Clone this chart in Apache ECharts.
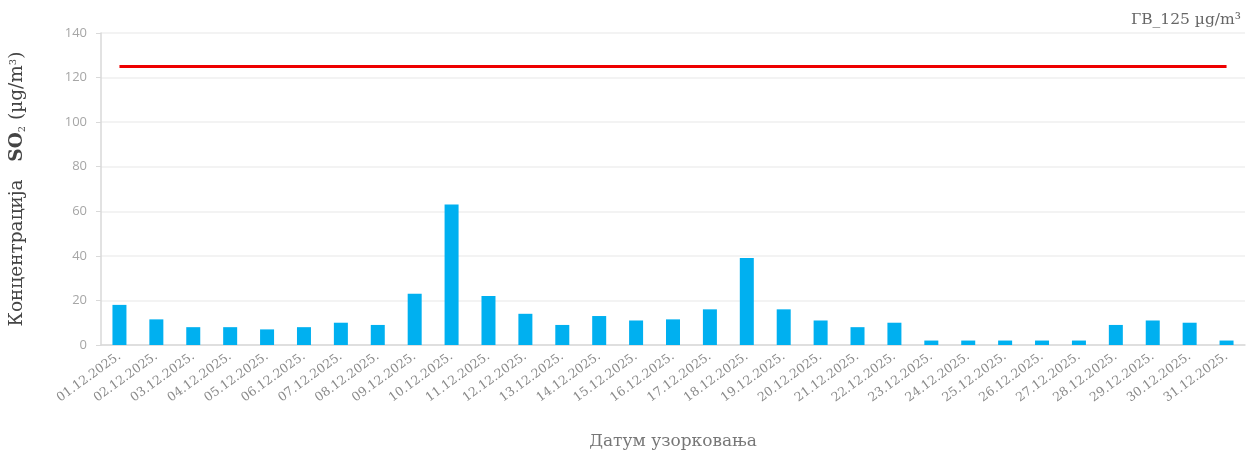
<!DOCTYPE html>
<html>
<head>
<meta charset="utf-8">
<script src="https://cdn.jsdelivr.net/npm/echarts@6/dist/echarts.min.js"></script>
<style>
  html, body { margin: 0; padding: 0; background: #fff; }
  #chart { width: 1256px; height: 459px; }
</style>
</head>
<body>
<div id="chart"></div>
<script>
  // датуми узорковања
  var dates = ['01.12.2025.', '02.12.2025.', '03.12.2025.', '04.12.2025.', '05.12.2025.', '06.12.2025.',
    '07.12.2025.', '08.12.2025.', '09.12.2025.', '10.12.2025.', '11.12.2025.', '12.12.2025.',
    '13.12.2025.', '14.12.2025.', '15.12.2025.', '16.12.2025.', '17.12.2025.', '18.12.2025.',
    '19.12.2025.', '20.12.2025.', '21.12.2025.', '22.12.2025.', '23.12.2025.', '24.12.2025.',
    '25.12.2025.', '26.12.2025.', '27.12.2025.', '28.12.2025.', '29.12.2025.', '30.12.2025.',
    '31.12.2025.'];
  // SO2 концентрације (µg/m3)
  var so2 = [18, 11.5, 8, 8, 7, 8, 10, 9, 23, 63, 22, 14, 9, 13, 11, 11.5, 16, 39, 16, 11, 8, 10, 2, 2, 2, 2, 2, 9, 11, 10, 2];
  // гранична вредност
  var limitValue = 125;
  var yTicks = [0, 20, 40, 60, 80, 100, 120, 140];

  var serif = '"DejaVu Serif", "Liberation Serif", serif';

  var myChart = echarts.init(document.getElementById('chart'));
  var option = {
    animation: false,
    title: {
      text: 'ГВ_125 µg/m³',
      right: 10,
      top: 7,
      textStyle: { fontFamily: serif, fontSize: 15.5, fontWeight: 'normal', color: '#666' }
    },
    grid: { left: 100, right: 11, top: 33, bottom: 114 },
    xAxis: {
      type: 'category',
      data: dates,
      name: 'Датум узорковања',
      nameLocation: 'middle',
      nameGap: 88,
      nameTextStyle: { fontFamily: serif, fontSize: 17, color: '#777' },
      axisLine: { lineStyle: { color: '#d9d9d9', width: 1.5 } },
      axisTick: { show: false },
      axisLabel: {
        interval: 0,
        rotate: 36,
        margin: 10,
        fontFamily: serif,
        fontSize: 12.5,
        color: '#8a8a8a'
      }
    },
    yAxis: {
      type: 'value',
      min: yTicks[0],
      max: yTicks[yTicks.length - 1],
      interval: 20,
      name: 'Концентрација   {b|SO}{sub|2} (µg/m{sup|3})',
      nameLocation: 'middle',
      nameGap: 74,
      nameTextStyle: {
        fontFamily: serif, fontSize: 18.5, color: '#444',
        rich: {
          b: { fontFamily: serif, fontSize: 18.5, fontWeight: 'bold', color: '#444' },
          sub: { fontFamily: serif, fontSize: 10, color: '#444', verticalAlign: 'bottom', padding: [8, 0, 0, 0] },
          sup: { fontFamily: serif, fontSize: 10, color: '#444', verticalAlign: 'top', padding: [0, 0, 8, 0] }
        }
      },
      axisLine: { show: true, lineStyle: { color: '#d9d9d9', width: 1.5 } },
      axisTick: { show: true, length: 5, lineStyle: { color: '#d9d9d9' } },
      axisLabel: { fontFamily: '"Open Sans", sans-serif', fontSize: 13, color: '#a6a6a6', margin: 14 },
      splitLine: { lineStyle: { color: '#efefef', width: 1.5 } }
    },
    series: [{
      name: 'SO2',
      type: 'bar',
      data: so2,
      barWidth: 14,
      itemStyle: { color: '#00b0f0' },
      markLine: {
        silent: true,
        symbol: 'none',
        label: { show: false },
        lineStyle: { color: '#ee0000', width: 3, type: 'solid' },
        data: [[
          { coord: [dates[0], limitValue] },
          { coord: [dates[dates.length - 1], limitValue] }
        ]]
      }
    }]
  };
  myChart.setOption(option);
  window.addEventListener('resize', function () {
    myChart.resize();
  });
</script>
</body>
</html>
